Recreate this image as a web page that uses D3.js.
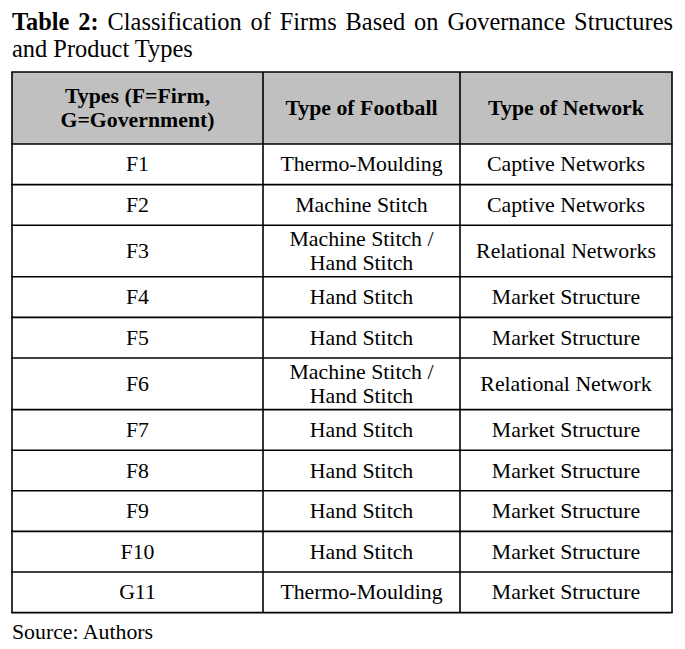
<!DOCTYPE html>
<html>
<head>
<meta charset="utf-8">
<script src="https://cdn.jsdelivr.net/npm/d3@7"></script>
<style>
  body { margin: 0; background: #fff; }
  text { font-family: "Liberation Serif", "Times New Roman", serif; fill: #000; }
</style>
</head>
<body>
<svg width="685" height="649"></svg>
<script>
const titleBold = "Table 2:";
const titleRest = ["Classification of Firms Based on Governance Structures", "and Product Types"];
const headers = [["Types (F=Firm,", "G=Government)"], ["Type of Football"], ["Type of Network"]];
const types = ["F1", "F2", "F3", "F4", "F5", "F6", "F7", "F8", "F9", "F10", "G11"];
const footballs = [
    ["Thermo-Moulding"], ["Machine Stitch"], ["Machine Stitch /", "Hand Stitch"], ["Hand Stitch"], ["Hand Stitch"],
    ["Machine Stitch /", "Hand Stitch"], ["Hand Stitch"], ["Hand Stitch"], ["Hand Stitch"], ["Hand Stitch"], ["Thermo-Moulding"]
];
const networks = ["Captive Networks", "Captive Networks", "Relational Networks", "Market Structure", "Market Structure",
    "Relational Network", "Market Structure", "Market Structure", "Market Structure", "Market Structure", "Market Structure"];
const source = "Source: Authors";

const svg = d3.select("svg");
const tLeft = 12, tRight = 672, tTop = 72;

// column edges (widths differ)
const colEdges = [tLeft, 263, 460, tRight];
const colMid = i => (colEdges[i] + colEdges[i + 1]) / 2;

const rows = types.map((t, i) => [[t], footballs[i], [networks[i]]]);
const lineCount = r => d3.max(r, c => c.length);

// row heights from number of text lines
const rowH = n => 29.6 + 11 * n;
const headerH = 72;
const ys = [tTop, tTop + headerH];
rows.forEach(r => ys.push(ys[ys.length - 1] + rowH(lineCount(r))));
const tBottom = ys[ys.length - 1];

// title (first line justified to the table width)
const titleSize = 24.4;
const title = svg.append("text").attr("x", tLeft).attr("y", 30).attr("font-size", titleSize);
title.append("tspan").attr("font-weight", "bold").text(titleBold + " ");
title.append("tspan").text(titleRest[0]);
const w = title.node().getComputedTextLength();
const spaces = (titleBold + " " + titleRest[0]).split(" ").length - 1;
title.attr("word-spacing", (673 - tLeft - w) / spaces);
svg.append("text").attr("x", tLeft).attr("y", 57).attr("font-size", titleSize).text(titleRest[1]);

// header fill
svg.append("rect").attr("x", tLeft).attr("y", tTop).attr("width", tRight - tLeft).attr("height", headerH)
    .attr("fill", "#c0c0c0");

const fontSize = 21.8, lineGap = 24.5;
function cellText(lines, i, yTop, h, bold) {
    const y0 = yTop + h / 2 - (lines.length - 1) * lineGap / 2 + fontSize * 0.33;
    svg.append("g").selectAll("text").data(lines).join("text")
        .attr("x", colMid(i))
        .attr("y", (d, k) => y0 + k * lineGap)
        .attr("text-anchor", "middle")
        .attr("font-size", fontSize)
        .attr("font-weight", bold ? "bold" : null)
        .text(d => d);
}

headers.forEach((h, i) => cellText(h, i, ys[0], headerH, true));
rows.forEach((r, ri) => r.forEach((c, ci) => cellText(c, ci, ys[ri + 1], ys[ri + 2] - ys[ri + 1], false)));

// grid lines
const grid = svg.append("g").attr("stroke", "#000").attr("stroke-width", 1.6);
grid.selectAll("line.h").data(ys).join("line").attr("class", "h")
    .attr("x1", tLeft - 0.8).attr("x2", tRight + 0.8).attr("y1", d => d).attr("y2", d => d);
grid.selectAll("line.v").data(colEdges).join("line").attr("class", "v")
    .attr("x1", d => d).attr("x2", d => d).attr("y1", tTop).attr("y2", tBottom);

svg.append("text").attr("x", tLeft).attr("y", tBottom + 26).attr("font-size", fontSize).text(source);
</script>
</body>
</html>
